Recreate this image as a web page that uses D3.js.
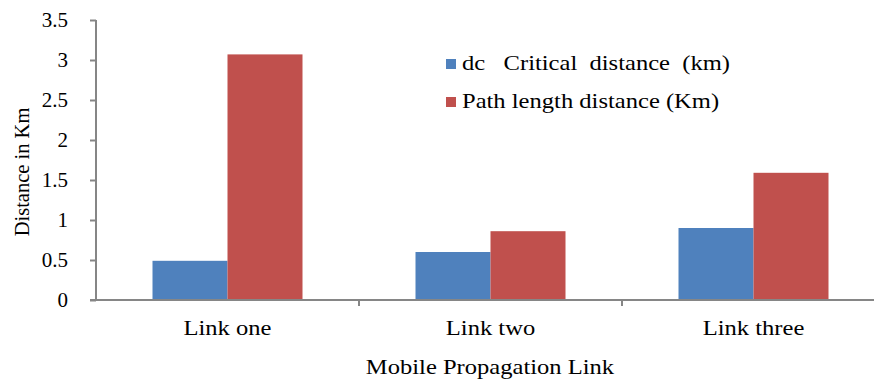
<!DOCTYPE html>
<html>
<head>
<meta charset="utf-8">
<script src="https://cdn.jsdelivr.net/npm/d3@7"></script>
<style>
  html, body { margin: 0; padding: 0; background: #fff; }
  svg { display: block; }
</style>
</head>
<body>
<svg id="chart" width="874" height="382"></svg>
<script>
// Link categories and the two measured distances (km)
const categories = ["Link one", "Link two", "Link three"];
const criticalDistance = [0.49, 0.60, 0.90];
const pathLength = [3.07, 0.86, 1.59];
const seriesNames = ["dc   Critical  distance  (km)", "Path length distance (Km)"];
const yTicks = [0, 0.5, 1, 1.5, 2, 2.5, 3, 3.5];

const colors = ["#4F81BD", "#C0504D"];
const axisColor = "#868686";
const fontSize = 21;
const stretch = 1.17;
const fontFamily = "'Liberation Serif', 'Times New Roman', 'DejaVu Serif', serif";

const svg = d3.select("#chart");
const margin = { left: 96, top: 20, bottom: 82 };
const bandWidth = 263;
const plotRight = margin.left + bandWidth * categories.length;
const plotBottom = 382 - margin.bottom;

function styleText(sel, size = fontSize) {
  sel.style("font-family", fontFamily)
     .style("font-size", size + "px")
     .style("fill", "#000");
}
// widen a text horizontally about its anchor x
function widen(sel, ax) {
  sel.attr("transform", `translate(${ax},0) scale(${stretch},1) translate(${-ax},0)`);
}

const x = d3.scaleBand()
  .domain(categories)
  .range([margin.left, plotRight])
  .paddingInner(0)
  .paddingOuter(0);

const y = d3.scaleLinear()
  .domain([0, 3.5])
  .range([plotBottom, margin.top]);

const rows = categories.map((c, i) => ({
  category: c,
  values: [criticalDistance[i], pathLength[i]]
}));

// Each group holds two bars occupying the middle of its band
const barW = 75;
const groupW = barW * 2;

const groups = svg.append("g")
  .selectAll("g")
  .data(rows)
  .join("g")
  .attr("transform", d => `translate(${x(d.category) + (x.bandwidth() - groupW) / 2},0)`);

groups.selectAll("rect")
  .data(d => d.values.map((v, k) => ({ v, k })))
  .join("rect")
  .attr("x", d => d.k * barW)
  .attr("width", barW)
  .attr("y", d => y(d.v))
  .attr("height", d => y(0) - y(d.v))
  .attr("fill", d => colors[d.k]);

// Y axis
const yAxis = svg.append("g")
  .attr("transform", `translate(${margin.left},0)`)
  .call(d3.axisLeft(y).tickValues(yTicks).tickSize(6).tickPadding(22)
    .tickFormat(d => String(d)));
yAxis.attr("font-family", null).attr("font-size", null);
yAxis.select(".domain").attr("stroke", axisColor).attr("stroke-width", 2)
  .attr("d", `M0,${margin.top}V${plotBottom}`);
yAxis.selectAll(".tick line").attr("stroke", axisColor).attr("stroke-width", 2);
yAxis.selectAll(".tick text").call(styleText);

// X axis with tick marks between categories
const xAxis = svg.append("g")
  .attr("transform", `translate(0,${plotBottom})`)
  .call(d3.axisBottom(x).tickSize(0).tickPadding(20));
xAxis.attr("font-family", null).attr("font-size", null);
xAxis.select(".domain").attr("stroke", axisColor).attr("stroke-width", 2)
  .attr("d", `M${margin.left - 6},0H${plotRight}`);
xAxis.selectAll(".tick text").call(styleText).call(widen, 0);
xAxis.selectAll(".sep")
  .data(categories.slice(1))
  .join("line")
  .attr("class", "sep")
  .attr("x1", d => x(d)).attr("x2", d => x(d))
  .attr("y1", 0).attr("y2", 6)
  .attr("stroke", axisColor).attr("stroke-width", 2);

// Axis titles
svg.append("text")
  .attr("x", 490).attr("y", 374)
  .attr("text-anchor", "middle")
  .text("Mobile Propagation Link")
  .call(styleText).call(widen, 490);

svg.append("text")
  .attr("transform", `translate(29,172) rotate(-90)`)
  .attr("text-anchor", "middle")
  .text("Distance in Km")
  .call(styleText, 20.5);

// Legend
const legend = svg.append("g")
  .selectAll("g")
  .data(seriesNames)
  .join("g")
  .attr("transform", (d, i) => `translate(446,${58 + i * 38})`);
legend.append("rect")
  .attr("y", 1)
  .attr("width", 10).attr("height", 10)
  .attr("fill", (d, i) => colors[i]);
legend.append("text")
  .attr("x", 16).attr("y", 12)
  .style("white-space", "pre")
  .text(d => d)
  .call(styleText).call(widen, 16);
</script>
</body>
</html>
